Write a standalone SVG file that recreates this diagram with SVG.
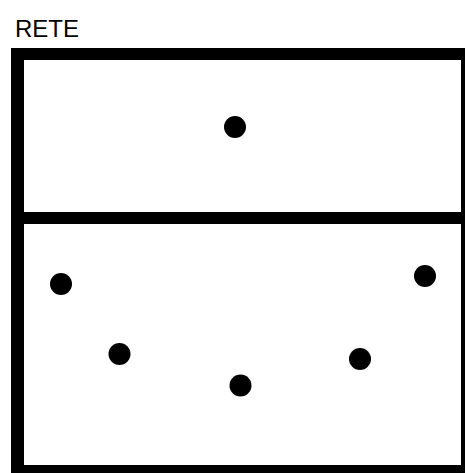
<svg xmlns="http://www.w3.org/2000/svg" width="465" height="473" viewBox="0 0 465 473">
<style>
.line{fill:#000;}
.dot{fill:#000;}
.lbl{font-family:"Liberation Sans",Arial,sans-serif;font-size:24px;fill:#000;}
</style>
<rect width="465" height="473" fill="#fff"/>
<g id="court">
<rect class="line" x="11" y="48" width="454" height="12"/>
<rect class="line" x="11" y="48" width="13" height="425"/>
<rect class="line" x="11" y="212" width="454" height="12"/>
<rect class="line" x="461" y="48" width="4" height="425"/>
<rect class="line" x="11" y="465" width="454" height="8"/>
</g>
<g id="label"><text class="lbl" x="15" y="37">RETE</text></g>
<g id="p1"><circle class="dot" cx="235" cy="127" r="11"/></g>
<g id="p2"><circle class="dot" cx="61" cy="284" r="11"/></g>
<g id="p3"><circle class="dot" cx="119.5" cy="354" r="11"/></g>
<g id="p4"><circle class="dot" cx="240.5" cy="385.5" r="11"/></g>
<g id="p5"><circle class="dot" cx="360" cy="359" r="11"/></g>
<g id="p6"><circle class="dot" cx="425" cy="276" r="11"/></g>
<g id="connectors"></g>
</svg>
